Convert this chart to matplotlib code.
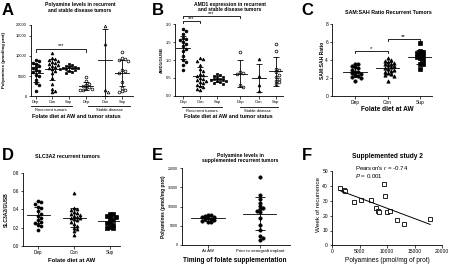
import numpy as np
import matplotlib
matplotlib.use('Agg')
import matplotlib.pyplot as plt

plt.rcParams['font.family'] = 'Liberation Sans'
plt.rcParams['mathtext.fontset'] = 'custom'
plt.rcParams['mathtext.rm'] = 'Liberation Sans'
plt.rcParams['mathtext.it'] = 'Liberation Sans:italic'
plt.rcParams['axes.linewidth'] = 0.6

# ---- data ----
# A: polyamines (pmol/mg prot), recurrent Dep/Con/Sup then stable Dep/Con/Sup
a_labels = ['Dep', 'Con', 'Sup', 'Dep', 'Con', 'Sup']
a_groups = [
    [9000, 8800, 8300, 8100, 7600, 7300, 7000, 6500, 6200, 5900, 5300, 4900, 4000, 3200, 2700, 1300],
    [10700, 9500, 9200, 9000, 8800, 8500, 8300, 8000, 7800, 7500, 7200, 7000, 6700, 6300, 5800, 4500, 3000, 1800, 1200, 1000],
    [8000, 7700, 7500, 7300, 7200, 7100, 7000, 6900, 6800, 6700, 6500, 6300, 6000, 5800],
    [4800, 3700, 3000, 2800, 2500, 2200, 2000, 1800, 1600, 1500],
    [19500, 13000, 1500, 1100],
    [11000, 9500, 9200, 9000, 8800, 6500, 6200, 5800, 3500, 2000, 1500, 1200, 1000],
]
a_mean = [5800, 6700, 6900, 2600, 9000, 5800]
a_sd = [2300, 2600, 600, 1000, 9000, 3200]

# B: AMD1/GUSB
b_groups = [
    [1.86, 1.80, 1.72, 1.62, 1.58, 1.55, 1.50, 1.45, 1.40, 1.32, 1.25, 1.10, 1.00, 0.95, 0.85, 0.72],
    [1.05, 1.02, 0.98, 0.85, 0.75, 0.68, 0.62, 0.58, 0.55, 0.50, 0.48, 0.45, 0.42, 0.38, 0.35, 0.30, 0.28, 0.25, 0.20, 0.15],
    [0.60, 0.57, 0.55, 0.52, 0.50, 0.48, 0.46, 0.45, 0.43, 0.41, 0.40, 0.38, 0.36, 0.33],
    [1.23, 0.65, 0.63, 0.60, 0.30, 0.25],
    [1.02, 0.55, 0.30, 0.12],
    [1.45, 1.25, 0.75, 0.72, 0.65, 0.58, 0.52, 0.48, 0.42, 0.38, 0.32],
]
b_mean = [1.34, 0.54, 0.46, 0.61, 0.50, 0.68]
b_sd = [0.32, 0.27, 0.08, 0.38, 0.39, 0.40]

# C: SAM:SAH ratio, recurrent tumors
c_labels = ['Dep', 'Con', 'Sup']
c_groups = [
    [3.6, 3.5, 3.3, 3.2, 3.1, 2.9, 2.7, 2.6, 2.5, 2.4, 2.3, 2.2, 2.1, 2.0, 1.6],
    [4.2, 4.0, 3.9, 3.8, 3.7, 3.6, 3.5, 3.4, 3.3, 3.2, 3.1, 3.0, 2.9, 2.8, 2.7, 2.5, 2.4, 2.3, 2.2, 1.6],
    [5.95, 5.0, 4.9, 4.8, 4.6, 4.4, 4.3, 4.2, 4.0, 3.6, 3.5, 3.0],
]
c_mean = [2.65, 3.1, 4.35]
c_sd = [0.6, 0.65, 0.75]

# D: SLC3A2/GUSB
d_groups = [
    [0.49, 0.48, 0.46, 0.43, 0.42, 0.38, 0.35, 0.33, 0.30, 0.28, 0.26, 0.25, 0.23, 0.22, 0.17],
    [0.58, 0.42, 0.40, 0.39, 0.37, 0.36, 0.35, 0.34, 0.33, 0.32, 0.31, 0.30, 0.29, 0.28, 0.26, 0.24, 0.22, 0.20, 0.18, 0.16, 0.12],
    [0.35, 0.35, 0.33, 0.32, 0.30, 0.28, 0.26, 0.25, 0.23, 0.21, 0.19, 0.19],
]
d_mean = [0.34, 0.31, 0.27]
d_sd = [0.09, 0.10, 0.05]

# E: polyamines in supplemented recurrent tumors
e_labels = ['At AW', 'Prior to xenograft implant']
e_groups = [
    [7900, 7700, 7500, 7300, 7200, 7000, 6800, 6700, 6500, 6300, 6000, 5900],
    [17600, 13000, 12000, 11000, 10200, 9600, 9400, 8900, 8500, 7000, 5200, 3900, 2300, 1800, 1300],
]
e_mean = [6900, 8100]
e_sd = [650, 4300]

# F: polyamines vs week of recurrence
f_x = [1400, 2100, 2300, 4000, 5200, 7000, 8000, 8400, 8500, 9400, 9700, 10000, 10600, 11800, 13000, 17800]
f_y = [38.5, 37.5, 36.5, 29.5, 30.5, 30.5, 25, 23, 22.3, 41.5, 33.2, 22.3, 23.2, 17.4, 14.5, 17.5]

W, H = 450, 266
fig = plt.figure(figsize=(4.5, 2.66), dpi=100)


def add_ax(x0, x1, ytop, ybot):
    ax = fig.add_axes([x0 / W, 1 - ybot / H, (x1 - x0) / W, (ybot - ytop) / H])
    ax.spines['top'].set_visible(False)
    ax.spines['right'].set_visible(False)
    return ax


def ftext(x, y, s, **kw):
    fig.text(x / W, 1 - y / H, s, **kw)


def swarm(vals, ppx, ppy, wx=3.0, wy=3.0):
    # spread points sideways when they would overlap
    vals = np.asarray(vals, float)
    dx, dy = wx / ppx, wy / ppy
    xs = np.zeros(len(vals))
    placed = []
    for i in np.argsort(vals)[::-1]:
        v = vals[i]
        for k in [0, 1, -1, 2, -2, 3, -3]:
            x = k * dx
            if all(abs(x - px) >= dx * 0.95 or abs(v - pv) >= dy for px, pv in placed):
                break
        xs[i] = x
        placed.append((x, v))
    return xs


def dots(ax, pos, groups, means, sds, markers, fills, ppx, ppy, hw, cap, ms=2.0):
    for x, g, m, s, mk, f in zip(pos, groups, means, sds, markers, fills):
        jx = swarm(g, ppx, ppy)
        ax.plot(x + jx, g, ls='none', marker=mk, ms=ms, mfc='k' if f else 'white',
                mec='k', mew=0.5, zorder=3)
        ax.plot([x - hw, x + hw], [m, m], color='k', lw=0.6, zorder=4)
        ax.errorbar(x, m, yerr=s, fmt='none', ecolor='k', elinewidth=0.6,
                    capsize=cap, capthick=0.6, zorder=4)


def ticks(ax, size):
    ax.tick_params(length=1.8, width=0.5, labelsize=size, pad=1)


# ---------------- A ----------------
def fwd(y):
    y = np.asarray(y, float)
    return np.where(y <= 15000, y, 15000 + (y - 15000) * 0.55)


def inv(y):
    y = np.asarray(y, float)
    return np.where(y <= 15000, y, 15000 + (y - 15000) / 0.55)


pos6 = [0, 1, 2, 3.05, 4.2, 5.25]
axA = add_ax(30.7, 133, 25, 96)
axA.set_yscale('function', functions=(fwd, inv))
dots(axA, pos6, a_groups, a_mean, a_sd, ['o', '^', 's', 'o', '^', 'o'],
     [1, 1, 1, 0, 0, 0], 16.5, 0.004, 0.42, 2.0)
axA.set_xlim(-0.3, 5.9)
axA.set_ylim(0, 20000)
axA.set_yticks([0, 5000, 10000, 15000, 20000])
axA.set_yticklabels(['0', '5000', '10000', '15000', '20000'])
axA.set_xticks(pos6)
axA.set_xticklabels(a_labels)
ticks(axA, 2.9)
axA.plot([0, 0, 3.05, 3.05], [11000, 11750, 11750, 11000], color='k', lw=0.6, clip_on=False)
axA.text(1.55, 11900, '***', ha='center', va='bottom', fontsize=4)
tr = axA.get_xaxis_transform()
axA.plot([-0.3, 2.2], [-0.14, -0.14], color='k', lw=0.6, transform=tr, clip_on=False)
axA.plot([3.2, 5.7], [-0.14, -0.14], color='k', lw=0.6, transform=tr, clip_on=False)
axA.text(0.95, -0.2, 'Recurrent tumors', transform=tr, ha='center', va='center', fontsize=3)
axA.text(4.45, -0.2, 'Stable disease', transform=tr, ha='center', va='center', fontsize=3)

# ---------------- B ----------------
posB = [0, 1, 2, 3.35, 4.45, 5.45]
axB = add_ax(175, 283, 24.3, 95.7)
dots(axB, posB, b_groups, b_mean, b_sd, ['o', '^', 's', 'o', '^', 'o'],
     [1, 1, 1, 0, 1, 0], 17, 35.7, 0.42, 2.0)
axB.set_xlim(-0.47, 5.88)
axB.set_ylim(0, 2.0)
axB.set_yticks([0, 0.5, 1.0, 1.5, 2.0])
axB.set_yticklabels(['0.0', '0.5', '1.0', '1.5', '2.0'])
axB.set_xticks(posB)
axB.set_xticklabels(a_labels)
ticks(axB, 3.0)
axB.plot([0, 0, 1, 1], [2.03, 2.09, 2.09, 2.03], color='k', lw=0.6, clip_on=False)
axB.text(0.5, 2.08, '***', ha='center', va='bottom', fontsize=4)
axB.plot([0, 0, 3.35, 3.35], [2.17, 2.23, 2.23, 2.17], color='k', lw=0.6, clip_on=False)
axB.text(1.65, 2.22, '***', ha='center', va='bottom', fontsize=4)
tr = axB.get_xaxis_transform()
axB.plot([-0.06, 2.3], [-0.16, -0.16], color='k', lw=0.6, transform=tr, clip_on=False)
axB.plot([3.35, 5.6], [-0.16, -0.16], color='k', lw=0.6, transform=tr, clip_on=False)
axB.text(1.1, -0.215, 'Recurrent tumors', transform=tr, ha='center', va='center', fontsize=3)
axB.text(4.4, -0.215, 'Stable disease', transform=tr, ha='center', va='center', fontsize=3)

# ---------------- C ----------------
axC = add_ax(332, 432, 24.3, 95.7)
dots(axC, [0, 1, 2], c_groups, c_mean, c_sd, ['o', '^', 's'], [1, 1, 1],
     32.5, 8.95, 0.36, 2.8, ms=2.4)
axC.set_xlim(-0.71, 2.37)
axC.set_ylim(0, 8)
axC.set_yticks([0, 2, 4, 6, 8])
axC.set_xticks([0, 1, 2])
axC.set_xticklabels(c_labels)
ticks(axC, 3.5)
axC.plot([0, 0, 1, 1], [4.8, 5.0, 5.0, 4.8], color='k', lw=0.6, clip_on=False)
axC.text(0.5, 5.05, '*', ha='center', va='bottom', fontsize=4.5)
axC.plot([1, 1, 2, 2], [6.1, 6.3, 6.3, 6.1], color='k', lw=0.6, clip_on=False)
axC.text(1.5, 6.35, '**', ha='center', va='bottom', fontsize=4.5)

# ---------------- D ----------------
axD = add_ax(23, 120, 173, 245.7)
dots(axD, [0, 1, 2], d_groups, d_mean, d_sd, ['o', '^', 's'], [1, 1, 1],
     36, 91, 0.32, 2.8, ms=2.2)
axD.set_xlim(-0.42, 2.28)
axD.set_ylim(0, 0.8)
axD.set_yticks([0, 0.2, 0.4, 0.6, 0.8])
axD.set_yticklabels(['0.0', '0.2', '0.4', '0.6', '0.8'])
axD.set_xticks([0, 1, 2])
axD.set_xticklabels(c_labels)
ticks(axD, 3.3)

# ---------------- E ----------------
axE = add_ax(182, 290, 168, 245)
dots(axE, [0, 1], e_groups, e_mean, e_sd, ['o', 'o'], [1, 1],
     52, 0.00385, 0.32, 3.5, ms=2.4)
axE.set_xlim(-0.5, 1.58)
axE.set_ylim(0, 20000)
axE.set_yticks([0, 5000, 10000, 15000, 20000])
axE.set_yticklabels(['0', '5000', '10000', '15000', '20000'])
axE.set_xticks([0, 1])
axE.set_xticklabels(e_labels)
ticks(axE, 3.2)
axE.tick_params(axis='y', labelsize=2.6)

# ---------------- F ----------------
axF = add_ax(332, 442.3, 171.3, 245.3)
axF.plot(f_x, f_y, ls='none', marker='s', ms=3.0, mfc='white', mec='k', mew=0.6)
k, b = np.polyfit(f_x, f_y, 1)
xl = np.array([min(f_x), max(f_x)])
axF.plot(xl, k * xl + b, color='k', lw=0.7)
axF.set_xlim(0, 20000)
axF.set_ylim(0, 50)
axF.set_xticks([0, 5000, 10000, 15000, 20000])
axF.set_yticks([0, 10, 20, 30, 40, 50])
ticks(axF, 3.6)
axF.text(4100, 49.5, "Pearson's $\\it{r}$ = -0.74\n$\\it{P}$ = 0.001", fontsize=4.4,
         va='center', linespacing=1.0)

# ---------------- panel letters, titles, axis labels ----------------
for lx, ly, L in [(1.5, 15, 'A'), (151.5, 15, 'B'), (301.5, 15, 'C'),
                  (1.5, 160, 'D'), (151.5, 160, 'E'), (301.5, 160, 'F')]:
    ftext(lx, ly, L, fontsize=12, fontweight='bold', va='baseline')

ftext(80, 7.5, 'Polyamine levels in recurrent\nand stable disease tumors', fontsize=3.6,
      fontweight='bold', ha='center', va='center', linespacing=1.1)
ftext(230, 7, 'AMD1 expression in recurrent\nand stable disease tumors', fontsize=3.6,
      fontweight='bold', ha='center', va='center', linespacing=1.1)
ftext(388, 13, 'SAM:SAH Ratio Recurrent Tumors', fontsize=3.8, fontweight='bold',
      ha='center', va='center')
ftext(67, 157, 'SLC3A2 recurrent tumors', fontsize=3.8, fontweight='bold',
      ha='center', va='center')
ftext(240, 158, 'Polyamine levels in\nsupplemented recurrent tumors', fontsize=3.6,
      fontweight='bold', ha='center', va='center', linespacing=1.1)
ftext(387, 156, 'Supplemented study 2', fontsize=4.8, fontweight='bold',
      ha='center', va='center')

ftext(76, 117, 'Folate diet at AW and tumor status', fontsize=3.9, fontweight='bold',
      ha='center', va='center')
ftext(228, 117, 'Folate diet at AW and tumor status', fontsize=3.9, fontweight='bold',
      ha='center', va='center')
ftext(387, 110, 'Folate diet at AW', fontsize=4.7, fontweight='bold', ha='center', va='center')
ftext(72, 260, 'Folate diet at AW', fontsize=4.2, fontweight='bold', ha='center', va='center')
ftext(235, 260.5, 'Timing of folate supplementation', fontsize=4.7, fontweight='bold',
      ha='center', va='center')
ftext(387, 260, 'Polyamines (pmol/mg of prot)', fontsize=4.7, ha='center', va='center')

ftext(4.5, 60, 'Polyamines (pmol/mg prot)', fontsize=3.2, fontweight='bold',
      rotation=90, ha='center', va='center')
ftext(162, 60, 'AMD1/GUSB', fontsize=3.2, fontweight='bold', rotation=90,
      ha='center', va='center')
ftext(322, 60, 'SAM:SAH Ratio', fontsize=3.6, fontweight='bold', rotation=90,
      ha='center', va='center')
ftext(6, 210, 'SLC3A2/GUSB', fontsize=3.6, fontweight='bold', rotation=90,
      ha='center', va='center')
ftext(163, 207, 'Polyamines (pmol/mg prot)', fontsize=3.4, fontweight='bold',
      rotation=90, ha='center', va='center')
ftext(318.5, 205, 'Week of recurrence', fontsize=4.6, rotation=90, ha='center', va='center')

fig.savefig('out.png', dpi=100)
